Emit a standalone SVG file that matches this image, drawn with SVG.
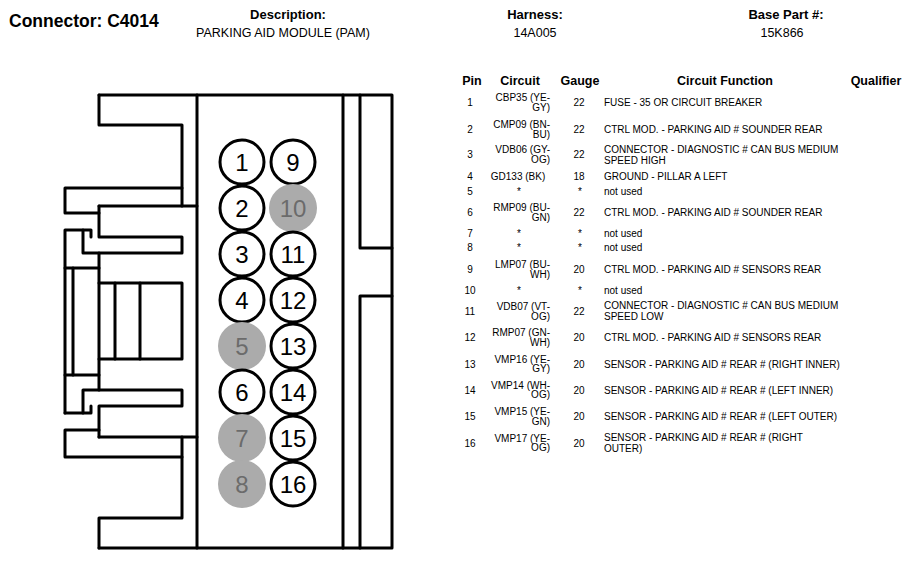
<svg xmlns="http://www.w3.org/2000/svg" width="914" height="561" viewBox="0 0 914 561">
<style>
  text { font-family: "Liberation Sans", Arial, sans-serif; fill: #000; }
  .title { font-size: 17.5px; font-weight: bold; }
  .hl { font-size: 13px; font-weight: bold; text-anchor: middle; }
  .hv { font-size: 12.5px; text-anchor: middle; }
  .th { font-size: 12.5px; font-weight: bold; text-anchor: middle; }
  .td { font-size: 10px; }
  .c { text-anchor: middle; }
  .e { text-anchor: end; }
  .body { fill: none; stroke: #000; stroke-width: 3; stroke-linejoin: round; stroke-linecap: round; }
  .pin circle { fill: #fff; stroke: #000; stroke-width: 3; }
  .pin.unused circle { fill: #ababab; stroke: none; }
  .pin text { font-size: 24px; text-anchor: middle; }
  .pin.unused text { fill: #6b6b6b; }
</style>

<g id="header">
  <text class="title" x="9" y="27">Connector: C4014</text>
  <text class="hl" x="288" y="19">Description:</text>
  <text class="hv" x="283" y="37">PARKING AID MODULE (PAM)</text>
  <text class="hl" x="535" y="19">Harness:</text>
  <text class="hv" x="535" y="37">14A005</text>
  <text class="hl" x="786" y="19">Base Part #:</text>
  <text class="hv" x="782" y="37">15K866</text>
</g>

<g id="connector-body" class="body">
  <path d="M99,95 H392 V548 H99"/>
  <path d="M197,95 V548"/>
  <path d="M343,95 V548"/>
  <path d="M360,95 V248 H392"/>
  <path d="M360,548 V296 H392"/>
  <path d="M99,95 V125 H182 V206"/>
  <path d="M182,188 H65 V213 H99"/>
  <path d="M99,206 H197"/>
  <path d="M99,206 V237 H182 V253 H83 V230"/>
  <path d="M65,413 V230 H91 V237"/>
  <path d="M99,253 V390"/>
  <path d="M65,268 H99"/>
  <path d="M73,268 V375"/>
  <path d="M65,375 H99"/>
  <path d="M99,283 H182 V359 H99"/>
  <path d="M115,283 V359"/>
  <path d="M140,283 V359"/>
  <path d="M99,437 V406 H182 V390 H83 V413"/>
  <path d="M65,413 H91 V406"/>
  <path d="M99,437 H197"/>
  <path d="M182,437 V518 H99 V548"/>
  <path d="M182,457 H65 V430 H99"/>
</g>

<g id="pins">
  <g id="pin1" class="pin"><circle cx="242" cy="162" r="22"/><text x="242" y="170.5">1</text></g>
  <g id="pin2" class="pin"><circle cx="242" cy="208" r="22"/><text x="242" y="216.5">2</text></g>
  <g id="pin3" class="pin"><circle cx="242" cy="254" r="22"/><text x="242" y="262.5">3</text></g>
  <g id="pin4" class="pin"><circle cx="242" cy="300" r="22"/><text x="242" y="308.5">4</text></g>
  <g id="pin5" class="pin unused"><circle cx="242" cy="346" r="24"/><text x="242" y="354.5">5</text></g>
  <g id="pin6" class="pin"><circle cx="242" cy="392" r="22"/><text x="242" y="400.5">6</text></g>
  <g id="pin7" class="pin unused"><circle cx="242" cy="438" r="24"/><text x="242" y="446.5">7</text></g>
  <g id="pin8" class="pin unused"><circle cx="242" cy="484" r="24"/><text x="242" y="492.5">8</text></g>
  <g id="pin9" class="pin"><circle cx="293" cy="162" r="22"/><text x="293" y="170.5">9</text></g>
  <g id="pin10" class="pin unused"><circle cx="293" cy="208" r="24"/><text x="293" y="216.5">10</text></g>
  <g id="pin11" class="pin"><circle cx="293" cy="254" r="22"/><text x="293" y="262.5">11</text></g>
  <g id="pin12" class="pin"><circle cx="293" cy="300" r="22"/><text x="293" y="308.5">12</text></g>
  <g id="pin13" class="pin"><circle cx="293" cy="346" r="22"/><text x="293" y="354.5">13</text></g>
  <g id="pin14" class="pin"><circle cx="293" cy="392" r="22"/><text x="293" y="400.5">14</text></g>
  <g id="pin15" class="pin"><circle cx="293" cy="438" r="22"/><text x="293" y="446.5">15</text></g>
  <g id="pin16" class="pin"><circle cx="293" cy="484" r="22"/><text x="293" y="492.5">16</text></g>
</g>

<g id="table">
  <g id="table-header">
    <text class="th" x="472" y="85">Pin</text>
    <text class="th" x="520" y="85">Circuit</text>
    <text class="th" x="580" y="85">Gauge</text>
    <text class="th" x="725" y="85">Circuit Function</text>
    <text class="th" x="876" y="85">Qualifier</text>
  </g>
  <g id="row1">
    <text class="td c" x="470" y="106">1</text>
    <text class="td e" x="550" y="101">CBP35 (YE-</text>
    <text class="td e" x="550" y="110.5">GY)</text>
    <text class="td c" x="579" y="106">22</text>
    <text class="td" x="604" y="106">FUSE - 35 OR CIRCUIT BREAKER</text>
  </g>
  <g id="row2">
    <text class="td c" x="470" y="133">2</text>
    <text class="td e" x="550" y="128">CMP09 (BN-</text>
    <text class="td e" x="550" y="137.5">BU)</text>
    <text class="td c" x="579" y="133">22</text>
    <text class="td" x="604" y="133">CTRL MOD. - PARKING AID # SOUNDER REAR</text>
  </g>
  <g id="row3">
    <text class="td c" x="470" y="158">3</text>
    <text class="td e" x="550" y="153">VDB06 (GY-</text>
    <text class="td e" x="550" y="162.5">OG)</text>
    <text class="td c" x="579" y="158">22</text>
    <text class="td" x="604" y="152.5">CONNECTOR - DIAGNOSTIC # CAN BUS MEDIUM</text>
    <text class="td" x="604" y="163.5">SPEED HIGH</text>
  </g>
  <g id="row4">
    <text class="td c" x="470" y="180">4</text>
    <text class="td c" x="518" y="180">GD133 (BK)</text>
    <text class="td c" x="579" y="180">18</text>
    <text class="td" x="604" y="180">GROUND - PILLAR A LEFT</text>
  </g>
  <g id="row5">
    <text class="td c" x="470" y="194.5">5</text>
    <text class="td c" x="519" y="194.5">*</text>
    <text class="td c" x="580" y="194.5">*</text>
    <text class="td" x="604" y="194.5">not used</text>
  </g>
  <g id="row6">
    <text class="td c" x="470" y="216">6</text>
    <text class="td e" x="550" y="211">RMP09 (BU-</text>
    <text class="td e" x="550" y="220.5">GN)</text>
    <text class="td c" x="579" y="216">22</text>
    <text class="td" x="604" y="216">CTRL MOD. - PARKING AID # SOUNDER REAR</text>
  </g>
  <g id="row7">
    <text class="td c" x="470" y="236.5">7</text>
    <text class="td c" x="519" y="236.5">*</text>
    <text class="td c" x="580" y="236.5">*</text>
    <text class="td" x="604" y="236.5">not used</text>
  </g>
  <g id="row8">
    <text class="td c" x="470" y="251">8</text>
    <text class="td c" x="519" y="251">*</text>
    <text class="td c" x="580" y="251">*</text>
    <text class="td" x="604" y="251">not used</text>
  </g>
  <g id="row9">
    <text class="td c" x="470" y="273">9</text>
    <text class="td e" x="550" y="268">LMP07 (BU-</text>
    <text class="td e" x="550" y="277.5">WH)</text>
    <text class="td c" x="579" y="273">20</text>
    <text class="td" x="604" y="273">CTRL MOD. - PARKING AID # SENSORS REAR</text>
  </g>
  <g id="row10">
    <text class="td c" x="470" y="294">10</text>
    <text class="td c" x="519" y="294">*</text>
    <text class="td c" x="580" y="294">*</text>
    <text class="td" x="604" y="294">not used</text>
  </g>
  <g id="row11">
    <text class="td c" x="470" y="315">11</text>
    <text class="td e" x="550" y="310">VDB07 (VT-</text>
    <text class="td e" x="550" y="319.5">OG)</text>
    <text class="td c" x="579" y="315">22</text>
    <text class="td" x="604" y="309">CONNECTOR - DIAGNOSTIC # CAN BUS MEDIUM</text>
    <text class="td" x="604" y="320">SPEED LOW</text>
  </g>
  <g id="row12">
    <text class="td c" x="470" y="341">12</text>
    <text class="td e" x="550" y="336">RMP07 (GN-</text>
    <text class="td e" x="550" y="345.5">WH)</text>
    <text class="td c" x="579" y="341">20</text>
    <text class="td" x="604" y="341">CTRL MOD. - PARKING AID # SENSORS REAR</text>
  </g>
  <g id="row13">
    <text class="td c" x="470" y="367.5">13</text>
    <text class="td e" x="550" y="362.5">VMP16 (YE-</text>
    <text class="td e" x="550" y="372">GY)</text>
    <text class="td c" x="579" y="367.5">20</text>
    <text class="td" x="604" y="367.5">SENSOR - PARKING AID # REAR # (RIGHT INNER)</text>
  </g>
  <g id="row14">
    <text class="td c" x="470" y="393.5">14</text>
    <text class="td e" x="550" y="388.5">VMP14 (WH-</text>
    <text class="td e" x="550" y="398">OG)</text>
    <text class="td c" x="579" y="393.5">20</text>
    <text class="td" x="604" y="393.5">SENSOR - PARKING AID # REAR # (LEFT INNER)</text>
  </g>
  <g id="row15">
    <text class="td c" x="470" y="420">15</text>
    <text class="td e" x="550" y="415">VMP15 (YE-</text>
    <text class="td e" x="550" y="424.5">GN)</text>
    <text class="td c" x="579" y="420">20</text>
    <text class="td" x="604" y="420">SENSOR - PARKING AID # REAR # (LEFT OUTER)</text>
  </g>
  <g id="row16">
    <text class="td c" x="470" y="446.5">16</text>
    <text class="td e" x="550" y="441.5">VMP17 (YE-</text>
    <text class="td e" x="550" y="451">OG)</text>
    <text class="td c" x="579" y="446.5">20</text>
    <text class="td" x="604" y="441">SENSOR - PARKING AID # REAR # (RIGHT</text>
    <text class="td" x="604" y="452">OUTER)</text>
  </g>
</g>
</svg>
